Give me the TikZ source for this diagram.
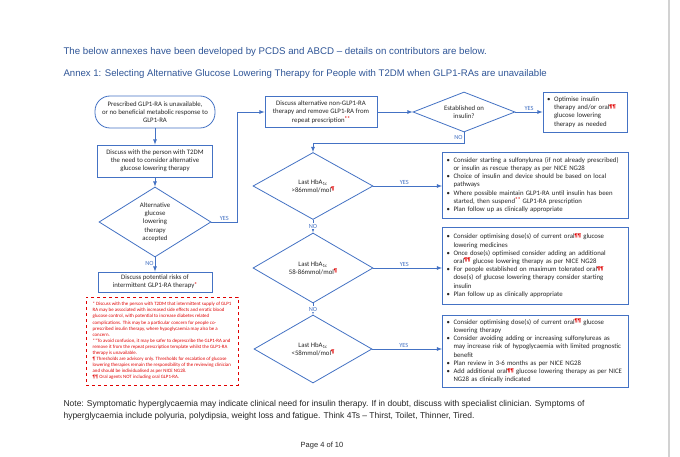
\documentclass[tikz,border=0pt]{standalone}
\usepackage{fontspec}
\setmainfont{Liberation Sans}
\newfontfamily\carlito{Carlito}
\usepackage{tikz}
\usetikzlibrary{arrows,shapes.geometric}
\definecolor{annexblue}{HTML}{2F5597}
\definecolor{flowblue}{HTML}{4472C4}
\definecolor{notered}{HTML}{E00000}
\newcommand{\mk}[1]{\raisebox{1.5pt}{\fontsize{5.4}{5}\selectfont\bfseries\textcolor{notered}{#1}}}
\newcommand{\itm}{\makebox[7pt][l]{\textbullet}}
\newcommand{\nxt}{\hspace*{7pt}}

\begin{document}
\begin{tikzpicture}[x=1pt,y=-1pt,
    flow/.style={-latex,draw=flowblue,line width=0.8pt},
    lbl/.style={text=flowblue,font=\carlito\fontsize{6.3}{7}\selectfont,inner sep=1pt},
    box/.style={draw=flowblue,line width=0.8pt,inner sep=2pt,align=center,text=black!85,
      font=\carlito\fontsize{6.8}{8.2}\selectfont},
    term/.style={box,rounded corners=15pt},
    ask/.style={box,diamond,inner sep=0pt},
    list/.style={box,align=left,inner xsep=4pt,text width=#1},
    notes/.style={draw=notered,dashed,line width=0.8pt,align=left,text=notered,inner sep=2pt,
      font=\carlito\fontsize{4.9}{6.1}\selectfont}]
\useasboundingbox (0,0) rectangle (680,457);
\fill[white] (0,0) rectangle (680,457);
\draw[gray!35,line width=2pt] (669,0) -- (669,457);
\node[anchor=base west,text=annexblue,font=\fontsize{9.7}{11}\selectfont] (intro) at (60,55)
  {The below annexes have been developed by PCDS and ABCD -- details on contributors are below.};
\node[anchor=base west,text=annexblue,font=\fontsize{9.6}{11}\selectfont] (annex) at (60,77)
  {Annex 1: Selecting Alternative Glucose Lowering Therapy for People with T2DM when GLP1-RAs are unavailable};
\node[term,minimum width=120,minimum height=32] (start) at (155,112)
  {Prescribed GLP1-RA is unavailable,\\or no beneficial metabolic response to\\GLP1-RA};
\node[box,minimum width=115,minimum height=32] (talk) at (155,161)
  {Discuss with the person with T2DM\\the need to consider alternative\\glucose lowering therapy};
\node[ask,minimum width=112,minimum height=70,aspect=1.6] (alt) at (155,222)
  {Alternative\\glucose\\lowering\\therapy\\accepted};
\node[box,minimum width=114,minimum height=20] (risk) at (155,282)
  {Discuss potential risks of\\intermittent GLP1-RA therapy\mk{*}};
\node[notes,minimum width=152,minimum height=88] (fn) at (162,341)
  {* Discuss with the person with T2DM that intermittent supply of GLP1\\
   RA may be associated with increased side effects and erratic blood\\
   glucose control, with potential to increase diabetes related\\
   complications. This may be a particular concern for people co-\\
   prescribed insulin therapy, where hypoglycaemia may also be a\\
   concern.\\
   **To avoid confusion, it may be safer to deprescribe the GLP1-RA and\\
   remove it from the repeat prescription template whilst the GLP1-RA\\
   therapy is unavailable.\\
   ¶ Thresholds are advisory only. Thresholds for escalation of glucose\\
   lowering therapies remain the responsibility of the reviewing clinician\\
   and should be individualised as per NICE NG28.\\
   ¶¶ Oral agents NOT including oral GLP1-RA.};
\node[box,minimum width=112,minimum height=31] (stop) at (321,112)
  {Discuss alternative non-GLP1-RA\\therapy and remove GLP1-RA from\\repeat prescription\mk{**}};
\node[ask,minimum width=102,minimum height=40,aspect=2.5] (est) at (464,112)
  {Established on\\insulin?};
\node[list=76pt,minimum height=40] (opt) at (585,112)
  {\itm Optimise insulin\\\nxt therapy and/or oral\mk{¶¶}\\\nxt glucose lowering\\\nxt therapy as needed};
\node[ask,minimum width=120,minimum height=67,aspect=1.8] (hba) at (313,186)
  {Last HbA\textsubscript{1c}\\>86mmol/mol\mk{¶}};
\node[ask,minimum width=120,minimum height=70,aspect=1.8] (hbb) at (313,268)
  {Last HbA\textsubscript{1c}\\58-86mmol/mol\mk{¶}};
\node[ask,minimum width=118,minimum height=68,aspect=1.8] (hbc) at (313,349)
  {Last HbA\textsubscript{1c}\\<58mmol/mol\mk{¶}};
\node[list=178pt,minimum height=66] (rescue) at (535.5,185)
  {\itm Consider starting a sulfonylurea (if not already prescribed)\\
   \nxt or insulin as rescue therapy as per NICE NG28\\
   \itm Choice of insulin and device should be based on local\\
   \nxt pathways\\
   \itm Where possible maintain GLP1-RA until insulin has been\\
   \nxt started, then suspend\mk{**} GLP1-RA prescription\\
   \itm Plan follow up as clinically appropriate};
\node[list=178pt,minimum height=77] (mid) at (535.5,265.5)
  {\itm Consider optimising dose(s) of current oral\mk{¶¶} glucose\\
   \nxt lowering medicines\\
   \itm Once dose(s) optimised consider adding an additional\\
   \nxt oral\mk{¶¶} glucose lowering therapy as per NICE NG28\\
   \itm For people established on maximum tolerated oral\mk{¶¶}\\
   \nxt dose(s) of glucose lowering therapy consider starting\\
   \nxt insulin\\
   \itm Plan follow up as clinically appropriate};
\node[list=178pt,minimum height=72] (low) at (535.5,351)
  {\itm Consider optimising dose(s) of current oral\mk{¶¶} glucose\\
   \nxt lowering therapy\\
   \itm Consider avoiding adding or increasing sulfonylureas as\\
   \nxt may increase risk of hypoglycaemia with limited prognostic\\
   \nxt benefit\\
   \itm Plan review in 3-6 months as per NICE NG28\\
   \itm Add additional oral\mk{¶¶} glucose lowering therapy as per NICE\\
   \nxt NG28 as clinically indicated};
\draw[flow] (start) -- (talk);
\draw[flow] (talk) -- (alt);
\draw[flow] (alt) -- node[lbl,left,pos=0.4] {NO} (risk);
\draw[flow] (alt.east) -- node[lbl,above] {YES} ++(26,0) |- (stop.west);
\draw[flow] (stop) -- (est);
\draw[flow] (est) -- node[lbl,above] {YES} (opt);
\draw[flow] (est.south) -- node[lbl,left] {NO} ++(0,11) -| (hba.north);
\draw[flow] (hba) -- node[lbl,fill=white] {NO} (hbb);
\draw[flow] (hbb) -- node[lbl,fill=white] {NO} (hbc);
\draw[flow] (hba.east) -- node[lbl,above,pos=0.45] {YES} (hba.east -| rescue.west);
\draw[flow] (hbb.east) -- node[lbl,above,pos=0.45] {YES} (hbb.east -| mid.west);
\draw[flow] (hbc.east) -- node[lbl,above,pos=0.45] {YES} (hbc.east -| low.west);
\node[anchor=base west,align=left,text=black!85,font=\fontsize{8.5}{12}\selectfont] (note) at (60,418)
  {Note: Symptomatic hyperglycaemia may indicate clinical need for insulin therapy. If in doubt, discuss with specialist clinician. Symptoms of\\
   hyperglycaemia include polyuria, polydipsia, weight loss and fatigue. Think 4Ts -- Thirst, Toilet, Thinner, Tired.};
\node[anchor=base,text=black!85,font=\fontsize{7.5}{9}\selectfont] (page) at (322,447) {Page 4 of 10};
\end{tikzpicture}
\end{document}
